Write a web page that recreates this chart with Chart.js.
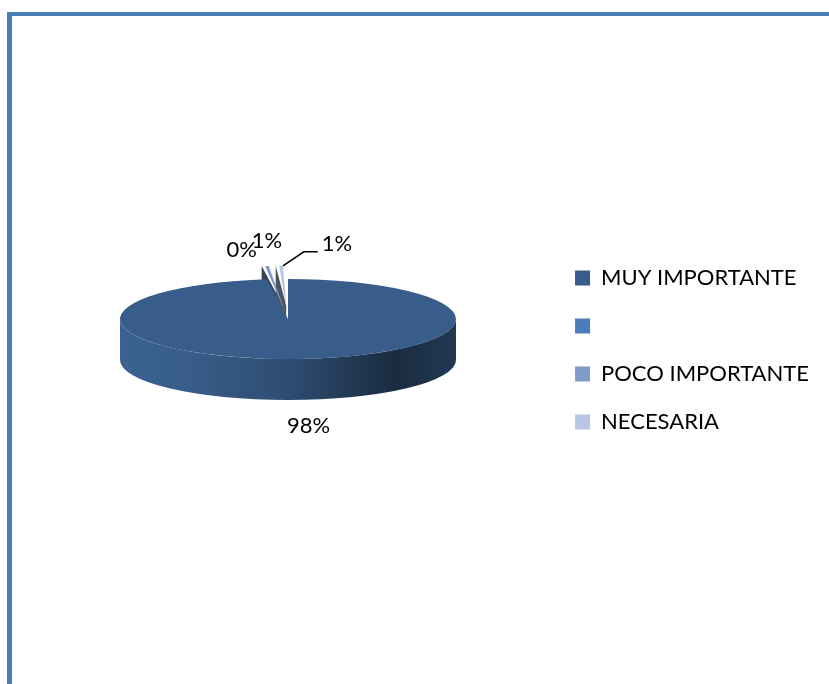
<!DOCTYPE html>
<html>
<head>
<meta charset="utf-8">
<script src="https://cdn.jsdelivr.net/npm/chart.js@4.4.1/dist/chart.umd.min.js"></script>
<style>
  html, body { margin: 0; padding: 0; background: #fff; }
  #wrap { position: relative; width: 829px; height: 684px; overflow: hidden; }
  #frame {
    position: absolute; left: 7px; top: 12px; width: 900px; height: 800px;
    border-left: 5px solid #4A7EBB; border-top: 4px solid #4A7EBB;
  }
  #grafico { position: absolute; left: 0; top: 0; }
</style>
</head>
<body>
<div id="wrap">
  <div id="frame"></div>
  <canvas id="grafico" width="829" height="684"></canvas>
</div>
<script>
const categorias = ['MUY IMPORTANTE', '', 'POCO IMPORTANTE', 'NECESARIA'];
const valores = [98, 0, 1, 1];
const colores = ['#385D8A', '#4A7EBB', '#7E9CCA', '#B7C6E2'];

// geometria del pastel en perspectiva
const CX = 288, CY = 319, RX = 168, RY = 40, DEPTH = 41;
// desplazamiento de cada etiqueta respecto al borde de su porcion
const ajusteEtiqueta = [[10, 26], [-18, -16], [0, -25], [56, -22]];

function shade(hex, f) {
  const n = parseInt(hex.slice(1), 16);
  const c = [(n >> 16) & 255, (n >> 8) & 255, n & 255].map(v => Math.min(255, Math.round(v * f)));
  return 'rgb(' + c.join(',') + ')';
}

function desplazamiento(arc, R) {
  const off = (arc.options.offset || 0) / 4;
  const circ = arc.endAngle - arc.startAngle;
  const d = off * (2 - Math.sin(Math.min(Math.PI, circ)));
  const mid = (arc.startAngle + arc.endAngle) / 2;
  return { x: d * Math.cos(mid) * RX / R, y: d * Math.sin(mid) * RY / R, mid };
}

const pie3d = {
  id: 'pie3d',
  beforeDatasetsDraw(chart) {
    const ctx = chart.ctx;
    const arcs = chart.getDatasetMeta(0).data;
    const R = arcs[0].outerRadius;

    // caras radiales visibles (porciones separadas)
    arcs.forEach((arc, i) => {
      if (arc.endAngle - arc.startAngle <= 0) return;
      const s = desplazamiento(arc, R);
      const cx = CX + s.x, cy = CY + s.y;
      [[arc.startAngle, Math.cos(arc.startAngle) < 0], [arc.endAngle, Math.cos(arc.endAngle) > 0]].forEach(([a, vis]) => {
        if (!vis || !arc.options.offset) return;
        const px = cx + RX * Math.cos(a), py = cy + RY * Math.sin(a);
        ctx.beginPath();
        ctx.moveTo(cx, cy);
        ctx.lineTo(px, py);
        ctx.lineTo(px, py + DEPTH);
        ctx.lineTo(cx, cy + DEPTH);
        ctx.closePath();
        ctx.fillStyle = shade(colores[i], 0.42);
        ctx.fill();
      });
    });

    // pared exterior frontal
    arcs.forEach((arc, i) => {
      if (arc.endAngle - arc.startAngle <= 0) return;
      const s = desplazamiento(arc, R);
      const cx = CX + s.x, cy = CY + s.y;
      for (let k = -1; k <= 1; k++) {
        const lo = Math.max(arc.startAngle, 2 * Math.PI * k);
        const hi = Math.min(arc.endAngle, 2 * Math.PI * k + Math.PI);
        if (hi <= lo) continue;
        const g = ctx.createLinearGradient(cx - RX, 0, cx + RX, 0);
        g.addColorStop(0, shade(colores[i], 1.05));
        g.addColorStop(0.2, shade(colores[i], 1.0));
        g.addColorStop(0.5, shade(colores[i], 0.82));
        g.addColorStop(0.82, shade(colores[i], 0.47));
        g.addColorStop(1, shade(colores[i], 0.6));
        ctx.beginPath();
        ctx.ellipse(cx, cy, RX, RY, 0, lo, hi, false);
        ctx.lineTo(cx + RX * Math.cos(hi), cy + DEPTH + RY * Math.sin(hi));
        ctx.ellipse(cx, cy + DEPTH, RX, RY, 0, hi, lo, true);
        ctx.closePath();
        ctx.fillStyle = g;
        ctx.fill();
      }
    });

    // la cara superior la dibuja Chart.js, aplastada en elipse
    ctx.save();
    ctx.translate(CX, CY);
    ctx.scale(RX / R, RY / R);
    ctx.translate(-arcs[0].x, -arcs[0].y);
  },
  afterDatasetsDraw(chart) {
    const ctx = chart.ctx;
    ctx.restore();
    const arcs = chart.getDatasetMeta(0).data;
    const R = arcs[0].outerRadius;
    const total = valores.reduce((a, b) => a + b, 0);
    ctx.save();
    ctx.font = '22px Lato';
    ctx.fillStyle = '#000';
    ctx.strokeStyle = '#000';
    ctx.lineWidth = 1.5;
    ctx.textAlign = 'center';
    ctx.textBaseline = 'middle';
    arcs.forEach((arc, i) => {
      const s = desplazamiento(arc, R);
      const m = s.mid;
      let ax = CX + s.x + RX * Math.cos(m);
      let ay = CY + s.y + RY * Math.sin(m);
      if (Math.sin(m) > 0) ay += DEPTH;
      const lx = ax + ajusteEtiqueta[i][0], ly = ay + ajusteEtiqueta[i][1];
      const texto = Math.round(valores[i] / total * 100) + '%';
      if (Math.hypot(lx - ax, ly - ay) > 50) {
        const w = ctx.measureText(texto).width;
        const ex = lx - w / 2 - 4, ey = ly + 8;
        ctx.beginPath();
        ctx.moveTo(ax + 2, ay);
        ctx.lineTo(ex - 14, ey);
        ctx.lineTo(ex, ey);
        ctx.stroke();
      }
      ctx.fillText(texto, lx, ly);
    });
    ctx.restore();
  }
};

Chart.defaults.color = '#000';
Chart.defaults.font.family = 'Lato';

new Chart(document.getElementById('grafico'), {
  type: 'pie',
  data: {
    labels: categorias,
    datasets: [{
      data: valores,
      backgroundColor: colores,
      borderWidth: 0,
      offset: [0, 140, 140, 140],
      clip: false
    }]
  },
  options: {
    responsive: false,
    animation: false,
    events: [],
    layout: { padding: { top: 16, right: 10, bottom: 0, left: 0 } },
    plugins: {
      legend: {
        position: 'right',
        align: 'center',
        labels: {
          boxWidth: 15,
          boxHeight: 15,
          padding: 26,
          color: '#000',
          font: { size: 22, family: 'Lato' }
        }
      },
      tooltip: { enabled: false }
    }
  },
  plugins: [pie3d]
});
</script>
</body>
</html>
